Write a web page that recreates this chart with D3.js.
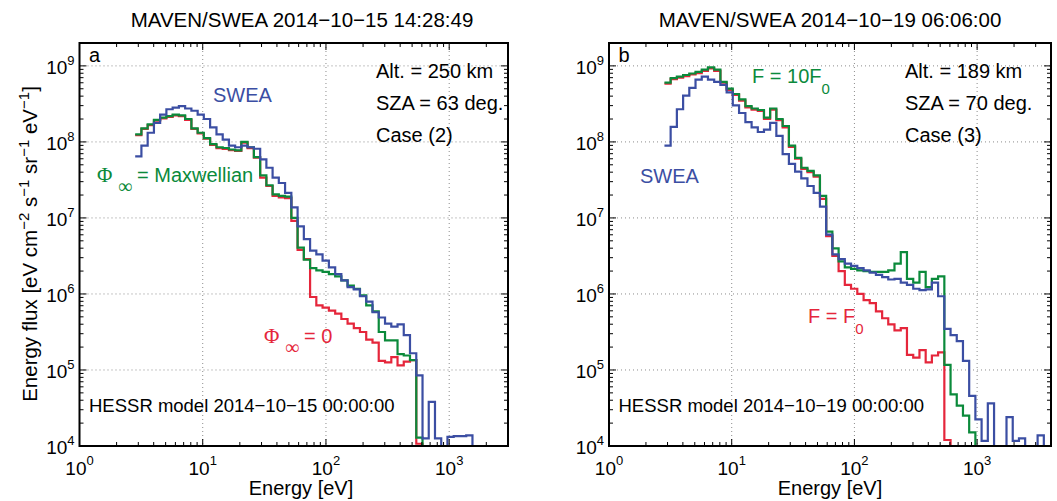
<!DOCTYPE html>
<html lang="en">
<head>
<meta charset="utf-8">
<title>MAVEN/SWEA spectra and HESSR model</title>
<script src="https://d3js.org/d3.v7.min.js"></script>
<style>
  body { margin: 0; background: #fff; }
  svg { display: block; font-family: "Liberation Sans", Arial, Helvetica, sans-serif; }
</style>
</head>
<body>
<svg width="1057" height="501"></svg>
<script>
// SWEA energy sweep, bin centres in eV
var energies = [3.00, 3.37, 3.79, 4.26, 4.78, 5.38, 6.04, 6.79, 7.63, 8.58,
  9.64, 10.8, 12.2, 13.7, 15.4, 17.3, 19.4, 21.8, 24.5, 27.6,
  31.0, 34.8, 39.1, 43.9, 49.4, 55.5, 62.4, 70.1, 78.8, 88.5,
  99.5, 112, 126, 141, 159, 178, 200, 225, 253, 284,
  320, 359, 404, 453, 510, 573, 644, 723, 813, 913,
  1026, 1153, 1296, 1457, 1637, 1840, 2068, 2324, 2611, 2935,
  3298, 3706, 4165, 4681];

// panel a : 2014-10-15, energy flux [eV cm-2 s-1 sr-1 eV-1]
var sweaA = [6.46e7, 8.91e7, 1.32e8, 1.78e8, 2.29e8, 2.69e8, 2.82e8, 2.95e8, 2.75e8, 2.57e8,
  2.29e8, 2.0e8, 1.55e8, 1.26e8, 1.07e8, 8.91e7, 8.51e7, 8.91e7, 8.51e7, 8.13e7,
  5.89e7, 4.57e7, 3.39e7, 2.88e7, 2.14e7, 1.38e7, 7.76e6, 5.25e6, 3.72e6, 3.31e6,
  2.75e6, 2.24e6, 1.82e6, 1.51e6, 1.23e6, 1.15e6, 9.33e5, 7.94e5, 5.75e5, 4.9e5,
  4.07e5, 3.72e5, 3.98e5, 2.88e5, 1.66e5, 8.51e4, 1.26e4, 3.8e4, 1.26e4, 6e3,
  1.32e4, 1.35e4, 1.35e4, 1.38e4, 6e3];
var maxwellA = [1.26e8, 1.51e8, 1.70e8, 1.95e8, 2.09e8, 2.19e8, 2.29e8, 2.24e8, 2.0e8, 1.51e8,
  1.32e8, 1.12e8, 9.33e7, 8.51e7, 8.32e7, 7.94e7, 7.76e7, 1.0e8, 8.51e7, 6.31e7,
  3.63e7, 2.69e7, 2.04e7, 1.95e7, 1.91e7, 1.0e7, 4.07e6, 2.82e6, 2.19e6, 2.04e6,
  1.95e6, 1.82e6, 1.70e6, 1.51e6, 1.29e6, 1.17e6, 9.55e5, 7.08e5, 5.89e5, 3.16e5,
  2.45e5, 2.45e5, 1.62e5, 1.55e5, 1.35e5, 1.29e4, 5e3];
var zeroA = [1.23e8, 1.48e8, 1.66e8, 1.91e8, 2.04e8, 2.14e8, 2.24e8, 2.19e8, 1.95e8, 1.48e8,
  1.29e8, 1.10e8, 9.1e7, 8.3e7, 8.1e7, 7.8e7, 7.6e7, 9.8e7, 8.3e7, 6.2e7,
  3.39e7, 2.63e7, 1.95e7, 1.86e7, 1.82e7, 9.12e6, 3.8e6, 2.88e6, 9.12e5, 7.08e5,
  6.61e5, 6.03e5, 5.5e5, 4.68e5, 4.07e5, 3.55e5, 3.16e5, 2.51e5, 2.29e5, 1.32e5,
  1.26e5, 1.48e5, 1.15e5, 1.29e5, 1.35e5, 1.07e4, 5e3];

// panel b : 2014-10-19
var sweaB = [8.91e7, 1.58e8, 2.69e8, 4.07e8, 5.13e8, 6.61e8, 7.24e8, 6.61e8, 6.17e8, 5.62e8,
  4.47e8, 3.02e8, 2.4e8, 1.82e8, 1.55e8, 1.35e8, 1.45e8, 1.78e8, 1.2e8, 6.92e7,
  5.13e7, 4.07e7, 3.31e7, 2.63e7, 2.14e7, 1.41e7, 6.03e6, 3.31e6, 2.88e6, 2.51e6,
  2.34e6, 2.19e6, 2.04e6, 1.91e6, 1.78e6, 1.66e6, 1.55e6, 1.58e6, 1.41e6, 1.32e6,
  1.17e6, 1.12e6, 1.15e6, 1.41e6, 9.33e5, 3.47e5, 2.88e5, 2.4e5, 1.32e5, 4.57e4,
  2.24e4, 1.17e4, 3.63e4, 6e3, 6e3, 2.4e4, 1.17e4, 1.26e4, 6e3, 6e3,
  1.38e4, 6e3];
var tenF0B = [6.03e8, 6.92e8, 7.24e8, 7.59e8, 7.94e8, 8.32e8, 8.91e8, 9.55e8, 8.91e8, 6.17e8,
  5.01e8, 4.27e8, 3.63e8, 2.95e8, 2.75e8, 2.63e8, 2.09e8, 2.75e8, 2.0e8, 1.62e8,
  8.91e7, 6.17e7, 4.57e7, 4.17e7, 3.63e7, 1.95e7, 6.61e6, 3.98e6, 2.69e6, 2.24e6,
  2.14e6, 2.04e6, 2.0e6, 1.95e6, 1.95e6, 1.95e6, 2.04e6, 2.51e6, 3.55e6, 1.58e6,
  1.41e6, 1.95e6, 1.23e6, 1.58e6, 1.70e6, 1.17e5, 4.79e4, 3.39e4, 2.51e4, 1.51e4,
  5e3];
var f0B = [5.85e8, 6.7e8, 7.0e8, 7.35e8, 7.7e8, 8.05e8, 8.6e8, 9.25e8, 8.6e8, 6.0e8,
  4.85e8, 4.15e8, 3.5e8, 2.85e8, 2.65e8, 2.55e8, 2.0e8, 2.65e8, 1.94e8, 1.55e8,
  8.6e7, 6.0e7, 4.4e7, 4.0e7, 3.5e7, 1.78e7, 5.75e6, 3.16e6, 2.0e6, 1.32e6,
  1.17e6, 1.0e6, 8.32e5, 7.59e5, 5.89e5, 4.79e5, 3.98e5, 3.31e5, 3.55e5, 1.58e5,
  1.45e5, 1.82e5, 1.26e5, 1.55e5, 1.70e5, 1.2e4, 5e3];

var xTickValues = [1, 10, 100, 1000];
var xTickLabels = ["0", "1", "2", "3"];
var yTickValues = [1e4, 1e5, 1e6, 1e7, 1e8, 1e9];
var yTickLabels = ["4", "5", "6", "7", "8", "9"];

var blue = "#3b4ea3", green = "#0b8a3b", red = "#e5263b";
var serif = "'Liberation Serif', 'Times New Roman', serif";

var svg = d3.select("svg");

var panels = [
  { key: "a", left: 79.5, right: 508, xMax: 3000, titleX: 302, labelX: 301,
    title: "MAVEN/SWEA 2014\u221210\u221215 14:28:49",
    info: ["Alt. = 250 km", "SZA = 63 deg.", "Case (2)"], infoX: 376,
    model: "HESSR model 2014\u221210\u221215 00:00:00",
    series: [[zeroA, red], [maxwellA, green], [sweaA, blue]] },
  { key: "b", left: 609, right: 1051, xMax: 4000, titleX: 830, labelX: 830,
    title: "MAVEN/SWEA 2014\u221210\u221219 06:06:00",
    info: ["Alt. = 189 km", "SZA = 70 deg.", "Case (3)"], infoX: 905,
    model: "HESSR model 2014\u221210\u221219 00:00:00",
    series: [[f0B, red], [tenF0B, green], [sweaB, blue]] }
];

var plotTop = 43, plotBottom = 446;

// bin edges half way (in log) between neighbouring energies
function edge(i, n) {
  if (i === 0) return energies[0] * energies[0] / Math.sqrt(energies[0] * energies[1]);
  if (i === n) return energies[n - 1] * energies[n - 1] / Math.sqrt(energies[n - 2] * energies[n - 1]);
  return Math.sqrt(energies[i - 1] * energies[i]);
}

function pow10(sel, base, exp, supShift, supSize) {
  sel.append("tspan").text(base);
  sel.append("tspan").attr("dy", supShift).attr("font-size", supSize).text(exp);
}

panels.forEach(function(p) {
  var x = d3.scaleLog().domain([1, p.xMax]).range([p.left, p.right]);
  var y = d3.scaleLog().domain([1e4, 2e9]).range([plotBottom, plotTop]);
  var g = svg.append("g");

  // dotted grid at decades
  g.selectAll(".gx").data(xTickValues.slice(1)).enter().append("line")
      .attr("x1", function(d) { return x(d); }).attr("x2", function(d) { return x(d); })
      .attr("y1", plotTop).attr("y2", plotBottom)
      .attr("stroke", "#8c8c8c").attr("stroke-width", 1).attr("stroke-dasharray", "1,3");
  g.selectAll(".gy").data(yTickValues.slice(1)).enter().append("line")
      .attr("y1", function(d) { return y(d); }).attr("y2", function(d) { return y(d); })
      .attr("x1", p.left).attr("x2", p.right)
      .attr("stroke", "#8c8c8c").attr("stroke-width", 1).attr("stroke-dasharray", "1,3");

  // step curves
  var clipId = "clip-" + p.key;
  svg.append("clipPath").attr("id", clipId).append("rect")
      .attr("x", p.left).attr("y", plotTop).attr("width", p.right - p.left).attr("height", plotBottom - plotTop);
  var line = d3.line().curve(d3.curveStepAfter)
      .x(function(d) { return x(d[0]); }).y(function(d) { return y(d[1]); });
  p.series.forEach(function(s) {
    var vals = s[0], n = vals.length;
    var pts = vals.map(function(v, i) { return [edge(i, energies.length), v]; });
    pts.push([edge(n, energies.length), vals[n - 1]]);
    g.append("path").datum(pts)
        .attr("clip-path", "url(#" + clipId + ")")
        .attr("fill", "none").attr("stroke", s[1]).attr("stroke-width", 2.2)
        .attr("stroke-linejoin", "miter").attr("d", line);
  });

  // minor + major ticks, inside, on all four sides
  var xMinor = [], yMinor = [];
  for (var e = 0; e < 4; e++) for (var k = 2; k < 10; k++) {
    if (k * Math.pow(10, e) <= p.xMax) xMinor.push(k * Math.pow(10, e));
  }
  for (e = 4; e < 10; e++) for (k = 2; k < 10; k++) {
    if (k * Math.pow(10, e) <= 2e9) yMinor.push(k * Math.pow(10, e));
  }
  var ticks = g.append("g").attr("stroke", "#000").attr("stroke-width", 1);
  function xt(vals, len) {
    vals.forEach(function(v) {
      ticks.append("line").attr("x1", x(v)).attr("x2", x(v)).attr("y1", plotBottom).attr("y2", plotBottom - len);
      ticks.append("line").attr("x1", x(v)).attr("x2", x(v)).attr("y1", plotTop).attr("y2", plotTop + len);
    });
  }
  function yt(vals, len) {
    vals.forEach(function(v) {
      ticks.append("line").attr("y1", y(v)).attr("y2", y(v)).attr("x1", p.left).attr("x2", p.left + len);
      ticks.append("line").attr("y1", y(v)).attr("y2", y(v)).attr("x1", p.right).attr("x2", p.right - len);
    });
  }
  xt(xMinor, 4); xt(xTickValues, 7);
  yt(yMinor, 4); yt(yTickValues, 7);

  g.append("rect").attr("x", p.left).attr("y", plotTop)
      .attr("width", p.right - p.left).attr("height", plotBottom - plotTop)
      .attr("fill", "none").attr("stroke", "#000").attr("stroke-width", 2);

  // tick labels
  xTickValues.forEach(function(v, i) {
    var t = g.append("text").attr("x", x(v)).attr("y", plotBottom + 29)
        .attr("text-anchor", "middle").attr("font-size", 19);
    pow10(t, "10", xTickLabels[i], -10, 13);
  });
  yTickValues.forEach(function(v, i) {
    var t = g.append("text").attr("x", p.left - 5).attr("y", y(v) + 8)
        .attr("text-anchor", "end").attr("font-size", 19);
    pow10(t, "10", yTickLabels[i], -9, 13);
  });

  g.append("text").attr("x", p.titleX).attr("y", 27).attr("text-anchor", "middle")
      .attr("font-size", 20.5).text(p.title);
  g.append("text").attr("x", p.labelX).attr("y", 495).attr("text-anchor", "middle")
      .attr("font-size", 20).text("Energy [eV]");
  g.append("text").attr("x", p.left + 9.5).attr("y", 62).attr("font-size", 20).text(p.key);
  p.info.forEach(function(s, i) {
    g.append("text").attr("x", p.infoX).attr("y", 78 + i * 32).attr("font-size", 20).text(s);
  });
  g.append("text").attr("x", p.left + 9.5).attr("y", 412).attr("font-size", 18.5).text(p.model);
});

// curve labels, panel a
svg.append("text").attr("x", 213).attr("y", 102).attr("font-size", 20).attr("fill", blue).text("SWEA");
function phiLabel(x0, y0, rest, colour) {
  var t = svg.append("text").attr("y", y0).attr("fill", colour).attr("font-size", 20);
  t.append("tspan").attr("x", x0).attr("font-family", serif).attr("font-size", 21).text("\u03A6");
  t.append("tspan").attr("x", x0 + 21).attr("dy", 11).attr("font-family", serif).attr("font-size", 20).text("\u221E");
  t.append("tspan").attr("x", x0 + 40).attr("dy", -11).text(rest);
}
phiLabel(97, 182, "= Maxwellian", green);
phiLabel(264, 343, "= 0", red);

// curve labels, panel b
svg.append("text").attr("x", 640).attr("y", 183).attr("font-size", 20).attr("fill", blue).text("SWEA");
var tg = svg.append("text").attr("x", 752).attr("y", 83).attr("font-size", 20).attr("fill", green);
tg.append("tspan").text("F = 10F");
tg.append("tspan").attr("dy", 11).attr("font-size", 15).text("0");
var tr = svg.append("text").attr("x", 808).attr("y", 323).attr("font-size", 20).attr("fill", red);
tr.append("tspan").text("F = F");
tr.append("tspan").attr("dy", 11).attr("font-size", 15).text("0");

// shared y axis title
var yl = svg.append("text").attr("transform", "translate(37,244) rotate(-90)")
    .attr("text-anchor", "middle").attr("font-size", 20.5);
[["Energy flux [eV cm", 0, null], ["\u22122", -8, 15], [" s", 8, null], ["\u22121", -8, 15],
 [" sr", 8, null], ["\u22121", -8, 15], [" eV", 8, null], ["\u22121", -8, 15], ["]", 8, null]]
  .forEach(function(part) {
    var ts = yl.append("tspan").attr("dy", part[1]).text(part[0]);
    if (part[2]) ts.attr("font-size", part[2]);
  });
</script>
</body>
</html>
